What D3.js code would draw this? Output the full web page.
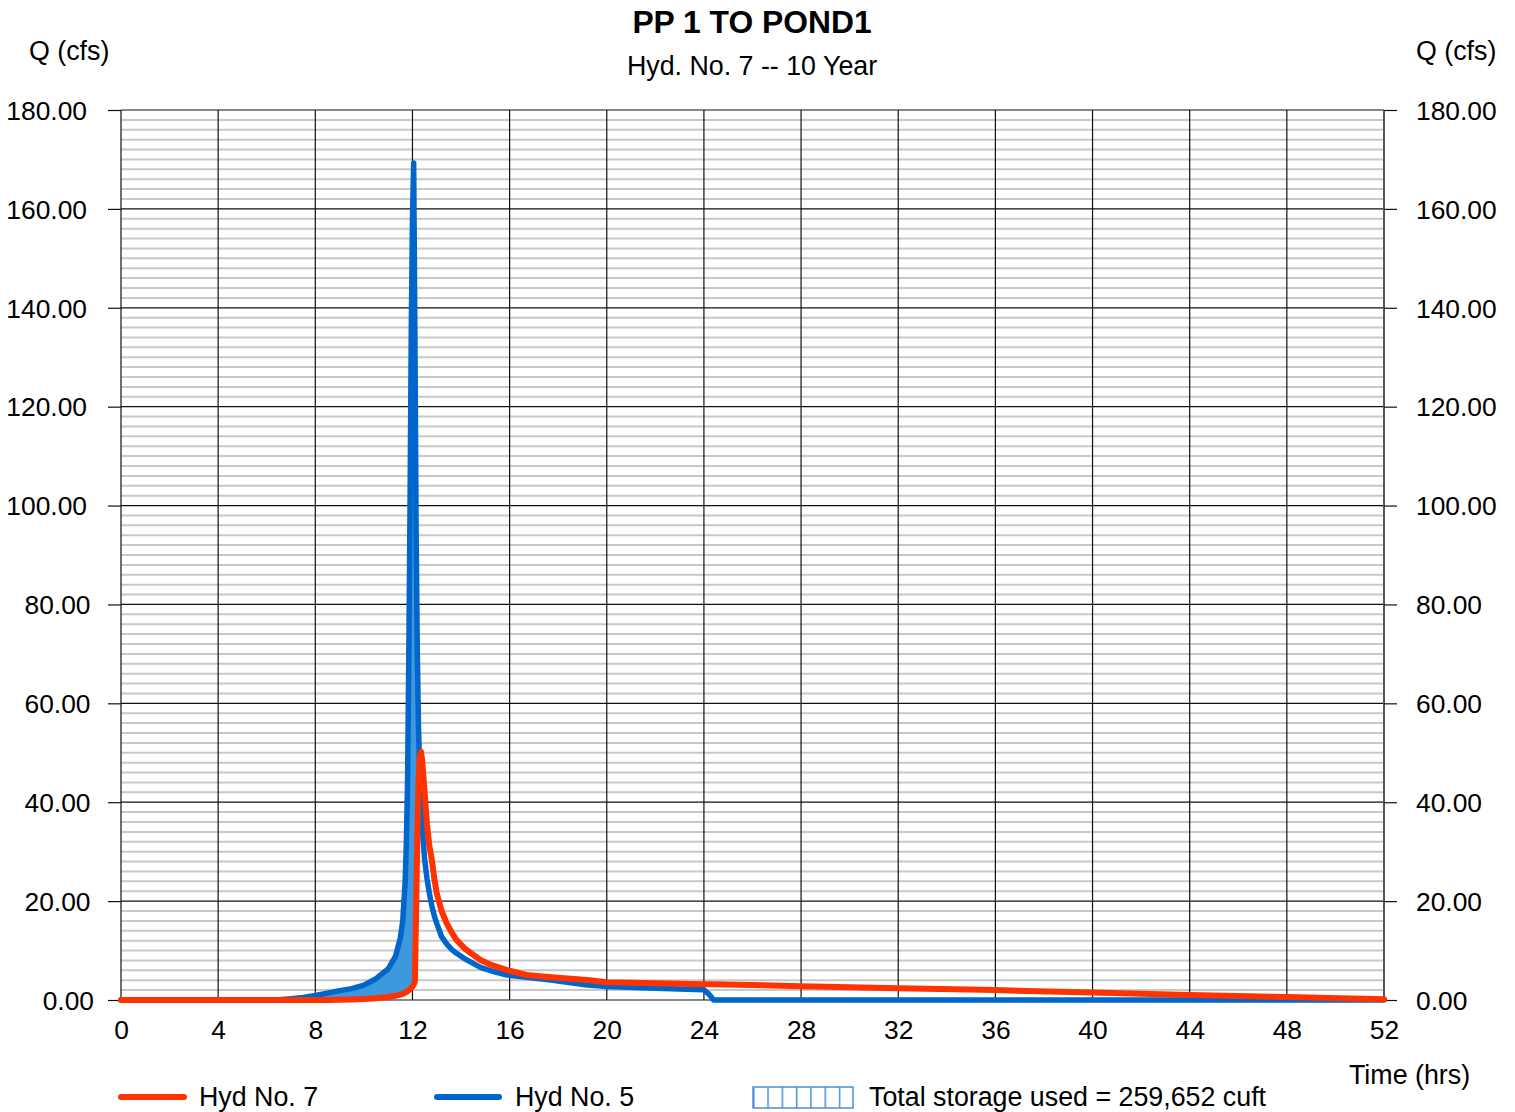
<!DOCTYPE html>
<html>
<head>
<meta charset="utf-8">
<script src="https://cdn.jsdelivr.net/npm/d3@7"></script>
<style>
  html, body { margin: 0; padding: 0; background: #fff; }
  svg text { font-family: "Liberation Sans", Arial, sans-serif; fill: #000; }
</style>
</head>
<body>
<svg id="chart" width="1515" height="1112"></svg>
<script>
// Hydrograph time steps (hrs)
const times = [0, 4, 6, 6.5, 7, 7.5, 8, 8.5, 9, 9.5, 10, 10.5, 11, 11.3, 11.5, 11.6, 11.7, 11.75, 11.8, 11.85,
  11.9, 11.95, 12.0, 12.05, 12.1, 12.15, 12.2, 12.25, 12.3, 12.35, 12.4, 12.5, 12.6, 12.7, 12.8, 12.9, 13.0,
  13.2, 13.4, 13.6, 13.8, 14.2, 14.8, 15.3, 15.9, 16.7, 17.7, 19.2, 20, 22, 24, 24.2, 24.4, 28, 32, 36, 40,
  44, 48, 52];

// Hyd No. 5 — inflow to the pond (cfs)
const inflowQ = [0, 0, 0, 0.05, 0.25, 0.5, 0.9, 1.4, 1.9, 2.3, 3.0, 4.3, 6.3, 8.8, 12.5, 16, 24, 32, 45, 70,
  100, 135, 158, 169.3, 135, 95, 70, 55, 46, 40, 35, 28.5, 24.5, 21.5, 19, 17, 15.5,
  12.8, 11.4, 10.3, 9.5, 8.2, 6.6, 5.8, 5.05, 4.6, 4.05, 3.05, 2.75, 2.4, 2.05, 1.2, 0, 0, 0, 0, 0,
  0, 0, 0];

// Hyd No. 7 — routed outflow (cfs)
const outflowQ = [0, 0, 0, 0, 0, 0, 0, 0.02, 0.05, 0.1, 0.2, 0.35, 0.6, 0.85, 1.1, 1.25, 1.5, 1.65, 1.8, 2.0,
  2.2, 2.4, 2.7, 3.1, 3.7, 18, 33, 44, 49, 50.2, 48.5, 42, 35.5, 31, 28.3, 24.5, 21.6,
  18, 15.6, 13.8, 12.2, 10.2, 8.1, 7.0, 6.05, 5.06, 4.6, 4.05, 3.6, 3.4, 3.2, 3.2, 3.18, 2.8, 2.4, 2.0, 1.5,
  1.0, 0.6, 0.15];

// Axis tick values
const xTicks = [0, 4, 8, 12, 16, 20, 24, 28, 32, 36, 40, 44, 48, 52];
const yMajorTicks = [0, 20, 40, 60, 80, 100, 120, 140, 160, 180];
const yMinorTicks = d3.range(0, 181, 2).filter(v => v % 20 !== 0);

const titleText = "PP 1 TO POND1";
const subtitleText = "Hyd. No. 7 -- 10 Year";
const storageText = "Total storage used = 259,652 cuft";

const RED = "#ff3300";
const BLUE = "#0066cc";
const FILL = "#3d98dd";
const TICK_FONT = 26.4;
const TEXT_FONT = 26.8;

const svg = d3.select("#chart");
const x = d3.scaleLinear().domain([0, 52]).range([121, 1384]);
const y = d3.scaleLinear().domain([0, 180]).range([1000, 110]);

const data = times.map((t, i) => ({ t, inQ: inflowQ[i], outQ: outflowQ[i] }));

// Minor horizontal grid
svg.append("g").selectAll("line").data(yMinorTicks).join("line")
  .attr("x1", x(0)).attr("x2", x(52))
  .attr("y1", d => y(d)).attr("y2", d => y(d))
  .attr("stroke", "#c8c8c8").attr("stroke-width", 2);

// Major horizontal grid
svg.append("g").selectAll("line").data(yMajorTicks).join("line")
  .attr("x1", x(0)).attr("x2", x(52))
  .attr("y1", d => y(d)).attr("y2", d => y(d))
  .attr("stroke", "#111").attr("stroke-width", 1.2);

// Vertical grid
svg.append("g").selectAll("line").data(xTicks).join("line")
  .attr("x1", d => x(d)).attr("x2", d => x(d))
  .attr("y1", y(0)).attr("y2", y(180))
  .attr("stroke", d => d === 52 ? "#555" : "#111")
  .attr("stroke-width", d => d === 52 ? 2 : 1.2);

// Left axis: ticks and labels
const leftAxis = svg.append("g").attr("transform", `translate(${x(0)},0)`)
  .call(d3.axisLeft(y).tickValues(yMajorTicks).tickFormat(d3.format(".2f")).tickSize(13).tickPadding(20));
leftAxis.select(".domain").remove();
leftAxis.selectAll(".tick line").attr("stroke", "#111").attr("stroke-width", 1.2);
leftAxis.selectAll(".tick text")
  .attr("font-size", TICK_FONT)
  .attr("font-family", "Liberation Sans, Arial, sans-serif")
  .attr("x", function() { return -34 + (6 - this.textContent.length) * 3.5; })
  .attr("dy", "0.35em");

// Right axis: ticks and labels
const rightAxis = svg.append("g").attr("transform", `translate(${x(52)},0)`)
  .call(d3.axisRight(y).tickValues(yMajorTicks).tickFormat(d3.format(".2f")).tickSize(13).tickPadding(19));
rightAxis.select(".domain").remove();
rightAxis.selectAll(".tick line").attr("stroke", "#111").attr("stroke-width", 1.2);
rightAxis.selectAll(".tick text")
  .attr("font-size", TICK_FONT)
  .attr("font-family", "Liberation Sans, Arial, sans-serif")
  .attr("dy", "0.35em");

// Bottom axis labels
const bottomAxis = svg.append("g").attr("transform", `translate(0,${y(0)})`)
  .call(d3.axisBottom(x).tickValues(xTicks).tickFormat(d3.format("d")).tickSize(0).tickPadding(20));
bottomAxis.select(".domain").remove();
bottomAxis.selectAll(".tick text")
  .attr("font-size", TICK_FONT)
  .attr("font-family", "Liberation Sans, Arial, sans-serif");

// Storage area (inflow above outflow)
const storageArea = d3.area()
  .x(d => x(d.t))
  .y0(d => y(d.outQ))
  .y1(d => y(Math.max(d.inQ, d.outQ)));
svg.append("path").datum(data)
  .attr("d", storageArea)
  .attr("fill", FILL);

// Hydrograph lines
const inLine = d3.line().x(d => x(d.t)).y(d => y(d.inQ));
const outLine = d3.line().x(d => x(d.t)).y(d => y(d.outQ));

svg.append("path").datum(data)
  .attr("d", inLine)
  .attr("fill", "none").attr("stroke", BLUE).attr("stroke-width", 5.5)
  .attr("stroke-linejoin", "round").attr("stroke-linecap", "round");

svg.append("path").datum(data)
  .attr("d", outLine)
  .attr("fill", "none").attr("stroke", RED).attr("stroke-width", 6)
  .attr("stroke-linejoin", "round").attr("stroke-linecap", "round");

// Titles
svg.append("text").attr("x", 752).attr("y", 33).attr("text-anchor", "middle")
  .attr("font-size", 31.8).attr("font-weight", "bold").text(titleText);
svg.append("text").attr("x", 752).attr("y", 75).attr("text-anchor", "middle")
  .attr("font-size", TEXT_FONT).text(subtitleText);

svg.append("text").attr("x", 29).attr("y", 60).attr("font-size", TEXT_FONT).text("Q (cfs)");
svg.append("text").attr("x", 1416).attr("y", 60).attr("font-size", TEXT_FONT).text("Q (cfs)");
svg.append("text").attr("x", 1349).attr("y", 1084).attr("font-size", TEXT_FONT).text("Time (hrs)");

// Legend
const legend = svg.append("g");
legend.append("line").attr("x1", 121).attr("x2", 184).attr("y1", 1097).attr("y2", 1097)
  .attr("stroke", RED).attr("stroke-width", 6).attr("stroke-linecap", "round");
legend.append("text").attr("x", 199).attr("y", 1106).attr("font-size", TEXT_FONT).text("Hyd No. 7");

legend.append("line").attr("x1", 437).attr("x2", 499).attr("y1", 1097).attr("y2", 1097)
  .attr("stroke", BLUE).attr("stroke-width", 6).attr("stroke-linecap", "round");
legend.append("text").attr("x", 515).attr("y", 1106).attr("font-size", TEXT_FONT).text("Hyd No. 5");

const defs = svg.append("defs");
const pat = defs.append("pattern").attr("id", "storagePattern")
  .attr("patternUnits", "userSpaceOnUse").attr("x", 753).attr("y", 0)
  .attr("width", 14.3).attr("height", 20);
pat.append("rect").attr("width", 14.3).attr("height", 20).attr("fill", "#fff");
pat.append("line").attr("x1", 0.75).attr("x2", 0.75).attr("y1", 0).attr("y2", 20)
  .attr("stroke", "#4a90d9").attr("stroke-width", 1.5);

legend.append("rect").attr("x", 753).attr("y", 1087).attr("width", 100).attr("height", 21)
  .attr("fill", "url(#storagePattern)").attr("stroke", "#4a90d9").attr("stroke-width", 1.5);
legend.append("text").attr("x", 869).attr("y", 1106).attr("font-size", TEXT_FONT).text(storageText);
</script>
</body>
</html>
